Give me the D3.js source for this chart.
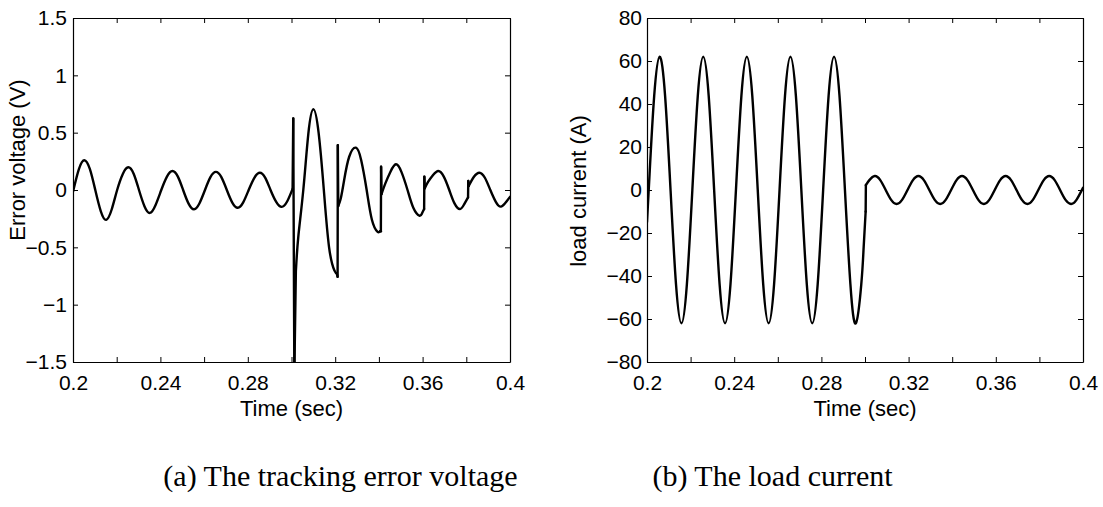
<!DOCTYPE html>
<html><head><meta charset="utf-8">
<script src="https://cdn.jsdelivr.net/npm/d3@7/dist/d3.min.js"></script>
<style>body{margin:0;background:#fff}svg{display:block}</style>
</head><body>
<svg id="chart" width="1103" height="507"></svg>
<script>
// ---------- data ----------
const timeTicks = [0.2,0.22,0.24,0.26,0.28,0.3,0.32,0.34,0.36,0.38,0.4];
const timeTickLabels = ["0.2","","0.24","","0.28","","0.32","","0.36","","0.4"];
const errTicks = [-1.5,-1,-0.5,0,0.5,1,1.5];
const errTickLabels = ["\u22121.5","\u22121","\u22120.5","0","0.5","1","1.5"];
const curTicks = [-80,-60,-40,-20,0,20,40,60,80];
const curTickLabels = ["\u221280","\u221260","\u221240","\u221220","0","20","40","60","80"];

const errTime = [0.2000,0.2027,0.2052,0.2077,0.2102,0.2127,0.2152,0.2177,0.2202,0.2228,0.2253,0.2278,0.2302,0.2327,0.2352,0.2378,
  0.2404,0.2430,0.2455,0.2480,0.2504,0.2529,0.2554,0.2579,0.2604,0.2629,0.2654,0.2679,0.2704,0.2729,0.2754,0.2779,
  0.2804,0.2830,0.2855,0.2880,0.2904,0.2930,0.2955,0.2980,0.3005,0.3008,0.3013,0.3020,0.3031,0.3054,0.3077,0.3100,
  0.3124,0.3148,0.3172,0.3196,0.3207,0.3211,0.3212,0.3214,0.3226,0.3241,0.3264,0.3295,0.3319,0.3344,0.3368,0.3393,
  0.3405,0.3409,0.3410,0.3412,0.3430,0.3453,0.3478,0.3503,0.3531,0.3558,0.3585,0.3597,0.3607,0.3608,0.3610,0.3625,
  0.3648,0.3672,0.3697,0.3722,0.3746,0.3771,0.3790,0.3808,0.3809,0.3811,0.3835,0.3860,0.3885,0.3910,0.3935,0.3959,
  0.3984,0.4000];
const errValue = [-0.015,0.183,0.260,0.184,0.000,-0.184,-0.260,-0.170,0.000,0.140,0.198,0.140,0.000,-0.141,-0.200,-0.130,
  0.000,0.117,0.166,0.117,0.000,-0.119,-0.168,-0.115,0.000,0.112,0.158,0.112,0.000,-0.110,-0.155,-0.108,
  0.000,0.106,0.150,0.106,0.000,-0.104,-0.147,-0.100,0.010,0.625,-1.600,-0.710,-0.410,0.000,0.490,0.704,
  0.500,0.000,-0.500,-0.700,-0.727,-0.756,0.390,-0.140,-0.070,0.087,0.290,0.369,0.260,0.000,-0.260,-0.363,
  -0.360,-0.360,0.203,-0.035,0.060,0.160,0.224,0.158,0.000,-0.158,-0.224,-0.205,-0.166,0.116,0.015,0.070,
  0.130,0.166,0.117,0.000,-0.117,-0.166,-0.125,-0.064,0.078,0.035,0.115,0.151,0.107,0.000,-0.103,-0.145,
  -0.100,-0.060];

const curTime = [0.2000,0.2012,0.2033,0.2058,0.2083,0.2108,0.2133,0.2158,0.2183,0.2208,0.2233,0.2258,0.2283,0.2308,0.2333,0.2358,
  0.2383,0.2408,0.2433,0.2458,0.2483,0.2508,0.2533,0.2558,0.2583,0.2608,0.2633,0.2658,0.2683,0.2708,0.2733,0.2758,
  0.2783,0.2808,0.2833,0.2858,0.2883,0.2908,0.2933,0.2958,0.2983,0.2993,0.3003,0.3004,0.3020,0.3045,0.3070,0.3095,
  0.3120,0.3145,0.3170,0.3195,0.3220,0.3245,0.3270,0.3295,0.3320,0.3345,0.3370,0.3395,0.3420,0.3445,0.3470,0.3495,
  0.3520,0.3545,0.3570,0.3595,0.3620,0.3645,0.3670,0.3695,0.3720,0.3745,0.3770,0.3795,0.3820,0.3845,0.3870,0.3895,
  0.3920,0.3945,0.3970,0.4000];
const curValue = [-15.0,7.8,43.8,62.0,43.8,0.0,-43.8,-62.0,-43.8,0.0,43.8,62.0,43.8,0.0,-43.8,-62.0,
  -43.8,0.0,43.8,62.0,43.8,0.0,-43.8,-62.0,-43.8,0.0,43.8,62.0,43.8,0.0,-43.8,-62.0,
  -43.8,0.0,43.8,62.0,43.8,0.0,-43.8,-62.0,-43.8,-28.2,-10.0,2.3,4.6,6.5,4.6,0.0,
  -4.6,-6.5,-4.6,0.0,4.6,6.5,4.6,0.0,-4.6,-6.5,-4.6,0.0,4.6,6.5,4.6,0.0,
  -4.6,-6.5,-4.6,0.0,4.6,6.5,4.6,0.0,-4.6,-6.5,-4.6,0.0,4.6,6.5,4.6,0.0,
  -4.6,-6.5,-4.6,1.0];

const yLabels = ["Error voltage (V)","load current (A)"];
const xLabel = "Time (sec)";
const captions = ["(a) The tracking error voltage","(b) The load current"];

// ---------- drawing ----------
const svg = d3.select("#chart");
const SANS = "'Liberation Sans', Arial, Helvetica, sans-serif";
const SERIF = "'Liberation Serif', 'Times New Roman', serif";

const panels = [
  {left:73, right:510, top:18, bottom:362, ticks:errTicks, tickLabels:errTickLabels, dom:[-1.5,1.5],
   t:errTime, v:errValue, ylab:yLabels[0], ylabX:25, ylabY:160, pad:6, cap:captions[0], capX:340.5},
  {left:647, right:1083, top:18, bottom:362, ticks:curTicks, tickLabels:curTickLabels, dom:[-80,80],
   t:curTime, v:curValue, ylab:yLabels[1], ylabX:586, ylabY:191, pad:5, cap:captions[1], capX:772.5}
];

function pieces(ts, vs){
  const out = []; let cur = [[ts[0], vs[0]]];
  for (let i = 1; i < ts.length; i++){
    if (ts[i] - ts[i-1] < 0.00085){
      if (cur.length > 1) out.push({smooth:true, pts:cur});
      out.push({smooth:false, pts:[[ts[i-1], vs[i-1]], [ts[i], vs[i]]]});
      cur = [[ts[i], vs[i]]];
    } else cur.push([ts[i], vs[i]]);
  }
  if (cur.length > 1) out.push({smooth:true, pts:cur});
  return out;
}

panels.forEach((p, pi) => {
  const x = d3.scaleLinear().domain([0.2, 0.4]).range([p.left, p.right]);
  const y = d3.scaleLinear().domain(p.dom).range([p.bottom, p.top]);
  const g = svg.append("g");

  const clipId = "clip" + pi;
  svg.append("clipPath").attr("id", clipId).append("rect")
    .attr("x", p.left).attr("y", p.top).attr("width", p.right - p.left).attr("height", p.bottom - p.top);

  const lineSmooth = d3.line().x(d => x(d[0])).y(d => y(d[1])).curve(d3.curveNatural);
  const lineStraight = d3.line().x(d => x(d[0])).y(d => y(d[1]));
  const cg = g.append("g").attr("clip-path", `url(#${clipId})`);
  pieces(p.t, p.v).forEach(pc => {
    cg.append("path").attr("d", (pc.smooth ? lineSmooth : lineStraight)(pc.pts))
      .attr("fill", "none").attr("stroke", "#000").attr("stroke-width", 2.4)
      .attr("stroke-linejoin", "round").attr("stroke-linecap", "round");
  });

  // axes (inward ticks on all four sides)
  const ax = [
    g.append("g").attr("transform", `translate(0,${p.bottom})`)
      .call(d3.axisBottom(x).tickValues(timeTicks).tickSizeInner(-5).tickSizeOuter(0).tickPadding(13)
        .tickFormat((d, i) => timeTickLabels[i])),
    g.append("g").attr("transform", `translate(0,${p.top})`)
      .call(d3.axisTop(x).tickValues(timeTicks).tickSizeInner(-5).tickSizeOuter(0).tickFormat("")),
    g.append("g").attr("transform", `translate(${p.left},0)`)
      .call(d3.axisLeft(y).tickValues(p.ticks).tickSizeInner(-5).tickSizeOuter(0).tickPadding(p.pad)
        .tickFormat((d, i) => p.tickLabels[i])),
    g.append("g").attr("transform", `translate(${p.right},0)`)
      .call(d3.axisRight(y).tickValues(p.ticks).tickSizeInner(-5).tickSizeOuter(0).tickFormat(""))
  ];
  ax.forEach(a => {
    a.selectAll("path.domain").attr("stroke", "#000").attr("stroke-width", 1.2);
    a.selectAll(".tick line").attr("stroke", "#000");
    a.selectAll("text").attr("font-family", SANS).attr("font-size", 21).attr("fill", "#000");
  });

  g.append("text").attr("x", (p.left + p.right) / 2).attr("y", 416).attr("text-anchor", "middle")
    .attr("font-family", SANS).attr("font-size", 22).text(xLabel);
  g.append("text").attr("transform", `translate(${p.ylabX},${p.ylabY}) rotate(-90)`).attr("text-anchor", "middle")
    .attr("font-family", SANS).attr("font-size", 22).text(p.ylab);
  g.append("text").attr("x", p.capX).attr("y", 486).attr("text-anchor", "middle")
    .attr("font-family", SERIF).attr("font-size", 30).text(p.cap);
});
</script>
</body></html>
